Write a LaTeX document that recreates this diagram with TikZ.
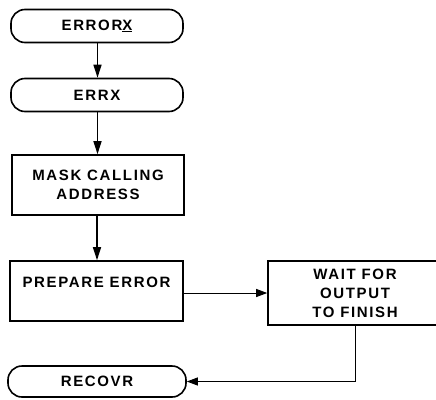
\documentclass[tikz,border=0pt]{standalone}
\usepackage{fontspec}
\newfontfamily\fcfont[LetterSpace=11]{Liberation Sans}
\usetikzlibrary{arrows.meta,calc}
\begin{document}
\begin{tikzpicture}[x=1pt,y=-1pt,
  every node/.style={font=\fcfont\bfseries\fontsize{15}{19}\selectfont, inner sep=0pt, align=center},
  term/.style={draw, line width=1.6pt, rounded corners=14pt, minimum width=#1, minimum height=33pt},
  procbox/.style={draw, line width=1.6pt, minimum height=60pt},
  flow/.style={line width=1.5pt, -{Triangle[width=8pt,length=13pt]}},
  thinflow/.style={line width=0.9pt, -{Triangle[width=8pt,length=11pt]}}
]
\useasboundingbox (0,0) rectangle (436,399);
\node[term=172pt] (t1) at (97,26) {ERROR\underline{X}};
\node[term=172pt] (t2) at (97,95) {ERRX};
\node[procbox, minimum width=172pt] (b1) at (98,185) {MASK CALLING\\ADDRESS};
\node[procbox, minimum width=173pt] (b2) at (96.5,291) {\raisebox{4pt}[0pt][0pt]{PREPARE ERROR}};
\node[procbox, minimum width=174pt, minimum height=64pt] (b3) at (355,293) {WAIT FOR\\OUTPUT\\TO FINISH};
\node[term=178pt, minimum height=31pt] (t3) at (97,381.5) {RECOVR};
\draw[flow] (t1.south -| 97.5,0) -- (t2.north -| 97.5,0);
\draw[flow] (t2.south -| 97.5,0) -- (b1.north -| 97.5,0);
\draw[flow] (b1.south -| 97,0) -- (b2.north -| 97,0);
\draw[thinflow] (b3.west -| b2.east) -- (b3.west);
\draw[thinflow] (b3.south) |- (t3.east);
\end{tikzpicture}
\end{document}
